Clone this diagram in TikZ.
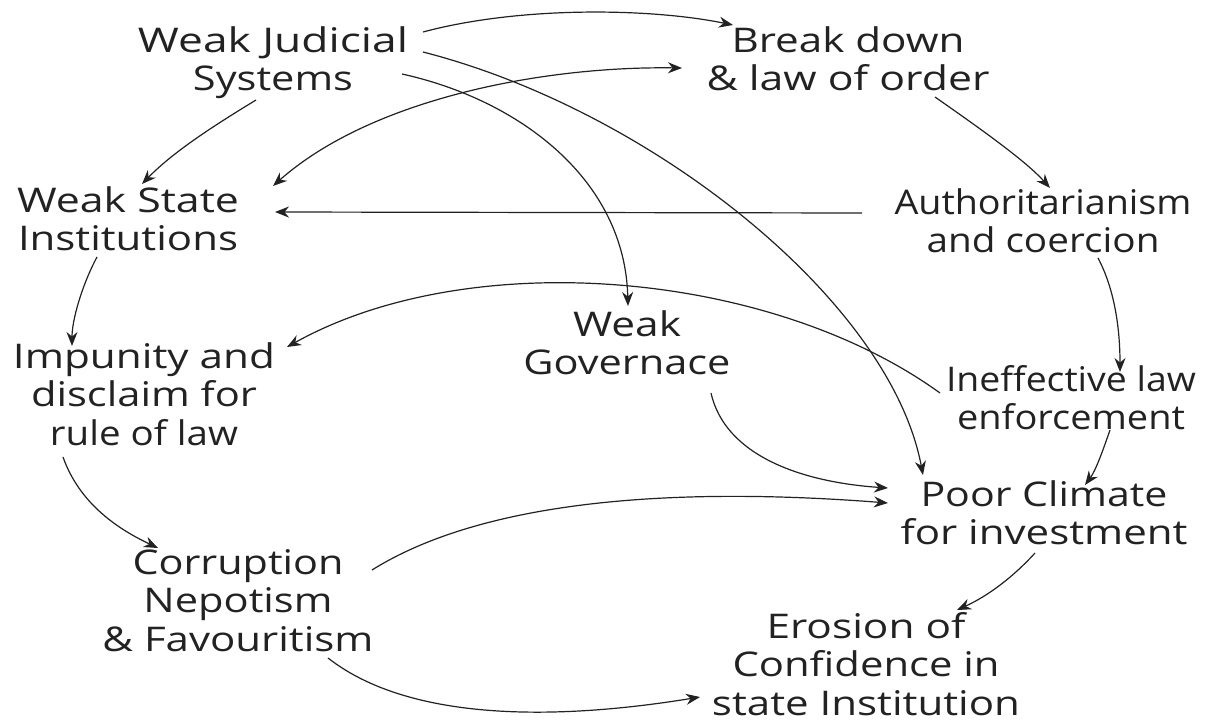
\documentclass[tikz,border=0pt]{standalone}
\usepackage{fontspec}
\setmainfont{Open Sans}
\usetikzlibrary{arrows.meta,calc}
\definecolor{ink}{HTML}{222222}
% one line of a label, stretched to a given width
\newcommand\tline[2]{\resizebox{#1pt}{\height}{\strut #2}}
\begin{document}
\begin{tikzpicture}[x=1pt,y=-1pt,
  lbl/.style={inner sep=0pt,align=center,text=ink,
    font=\fontsize{34}{37.5}\selectfont},
  arr/.style={draw=ink,line width=1.2pt,-{Stealth[length=14pt,width=11pt]}},
  biarr/.style={draw=ink,line width=1.2pt,{Stealth[length=14pt,width=11pt]}-{Stealth[length=14pt,width=11pt]}}]
\useasboundingbox (0,0) rectangle (1208,723);
\fill[white] (0,0) rectangle (1208,723);

% causes and effects
\node[lbl] (wjs) at (273,64)  {\tline{270}{Weak Judicial}\\\tline{160}{Systems}};
\node[lbl] (bdl) at (848,64)  {\tline{233}{Break down}\\\tline{283}{\& law of order}};
\node[lbl] (wsi) at (128,224) {\tline{222}{Weak State}\\\tline{220}{Institutions}};
\node[lbl] (ac)  at (1043,226){\tline{297}{Authoritarianism}\\\tline{233}{and coercion}};
\node[lbl] (wg)  at (627,348) {\tline{108}{Weak}\\\tline{207}{Governace}};
\node[lbl] (imp) at (144,399) {\tline{262}{Impunity and}\\\tline{226}{disclaim for}\\\tline{188}{rule of law}};
\node[lbl] (ile) at (1071,403){\tline{250}{Ineffective law}\\\tline{228}{enforcement}};
\node[lbl] (pci) at (1044,518){\tline{247}{Poor Climate}\\\tline{287}{for investment}};
\node[lbl] (cor) at (238,605) {\tline{211}{Corruption}\\\tline{189}{Nepotism}\\\tline{271}{\& Favouritism}};
\node[lbl] (ecs) at (866,669) {\tline{199}{Erosion of}\\\tline{267}{Confidence in}\\\tline{308}{state Institution}};

% links
\draw[arr] ($(wjs)+(150,-32)$) .. controls (520,6) and (650,8) .. ($(bdl)+(-115,-39)$);
\draw[biarr] ($(wsi)+(145,-38)$) .. controls (370,100) and (540,66) .. ($(bdl)+(-166,4)$);
\draw[arr] ($(wjs)+(-17,36)$) .. controls (220,122) and (175,150) .. ($(wsi)+(14,-40)$);
\draw[arr] ($(wjs)+(129,10)$) .. controls (520,100) and (625,180) .. ($(wg)+(1,-42)$);
\draw[arr] ($(wjs)+(150,-12)$) .. controls (650,110) and (890,300) .. ($(pci)+(-121,-43)$);
\draw[arr] ($(bdl)+(87,33)$) .. controls (975,125) and (1025,160) .. ($(ac)+(7,-38)$);
\draw[arr] ($(ac)+(-181,-13)$) -- ($(wsi)+(147,-12)$);
\draw[arr] ($(wsi)+(-31,33)$) .. controls (82,285) and (72,320) .. ($(imp)+(-72,-53)$);
\draw[arr] ($(ile)+(-131,-10)$) .. controls (770,270) and (470,245) .. ($(imp)+(143,-52)$);
\draw[arr] ($(ac)+(55,32)$) .. controls (1115,290) and (1120,330) .. ($(ile)+(49,-31)$);
\draw[arr] ($(wg)+(84,45)$) .. controls (725,455) and (800,482) .. ($(pci)+(-156,-30)$);
\draw[arr] ($(ile)+(39,27)$) .. controls (1103,450) and (1096,470) .. ($(pci)+(41,-33)$);
\draw[arr] ($(imp)+(-81,58)$) .. controls (80,505) and (120,530) .. ($(cor)+(-80,-57)$);
\draw[arr] ($(cor)+(134,-35)$) .. controls (500,490) and (720,490) .. ($(pci)+(-156,-15)$);
\draw[arr] ($(pci)+(-9,35)$) .. controls (1015,575) and (990,595) .. ($(ecs)+(91,-59)$);
\draw[arr] ($(cor)+(90,53)$) .. controls (420,730) and (590,715) .. ($(ecs)+(-166,28)$);
\end{tikzpicture}
\end{document}
